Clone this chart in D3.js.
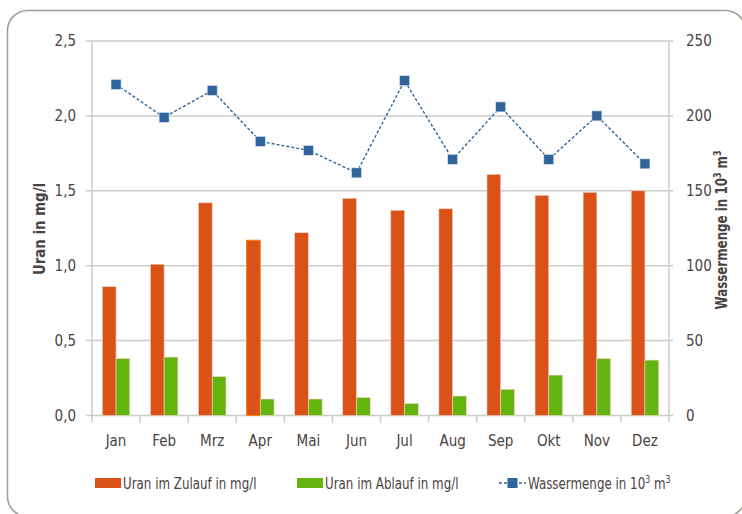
<!DOCTYPE html>
<html>
<head>
<meta charset="utf-8">
<script src="https://cdn.jsdelivr.net/npm/d3@7"></script>
<style>
  html, body { margin: 0; padding: 0; background: #fff; }
  svg { display: block; }
  text { font-family: "DejaVu Sans", sans-serif; font-stretch: condensed; fill: #4b4342; }
</style>
</head>
<body>
<svg id="chart" width="742" height="514"></svg>
<script>
// Monthly uranium concentration (inflow / outflow) and water volume
const months = ["Jan", "Feb", "Mrz", "Apr", "Mai", "Jun", "Jul", "Aug", "Sep", "Okt", "Nov", "Dez"];
const uranZulauf = [0.86, 1.01, 1.42, 1.17, 1.22, 1.45, 1.37, 1.38, 1.61, 1.47, 1.49, 1.50];
const uranAblauf = [0.38, 0.39, 0.26, 0.11, 0.11, 0.12, 0.08, 0.13, 0.175, 0.27, 0.38, 0.37];
const wassermenge = [221, 199, 217, 183, 177, 162, 223.5, 171, 206, 171, 200, 168];
const leftTicks = [0, 0.5, 1.0, 1.5, 2.0, 2.5];
const rightTicks = [0, 50, 100, 150, 200, 250];
const seriesNames = ["Uran im Zulauf in mg/l", "Uran im Ablauf in mg/l", "Wassermenge in 10³ m³"];

const colors = { zulauf: "#d95319", ablauf: "#63b40f", line: "#2f659c", grid: "#cbcbcb" };

const svg = d3.select("#chart");
const plot = { left: 92, right: 669, top: 41, bottom: 415.5 };
const fs = 15;
const fsLong = 16.5;
const squeeze = 0.8; // horizontal compression for the long labels

const fmt = d3.formatLocale({ decimal: ",", thousands: "." }).format(".1f");

const x = d3.scaleBand().domain(months).range([plot.left, plot.right]).padding(0);
const xSub = d3.scaleBand().domain(["zulauf", "ablauf"])
  .range([x.bandwidth() * 0.214, x.bandwidth() * 0.786]).padding(0);
const yLeft = d3.scaleLinear().domain([0, 2.5]).range([plot.bottom, plot.top]);
const yRight = d3.scaleLinear().domain([0, 250]).range([plot.bottom, plot.top]);

// Frame
svg.append("rect")
  .attr("x", 7.5).attr("y", 10.5)
  .attr("width", 738).attr("height", 506)
  .attr("rx", 20).attr("ry", 20)
  .attr("fill", "none").attr("stroke", "#a39a93").attr("stroke-width", 1.5);

// Horizontal gridlines
svg.append("g").selectAll("line").data(leftTicks).join("line")
  .attr("x1", plot.left - 6).attr("x2", plot.right + 4)
  .attr("y1", d => yLeft(d)).attr("y2", d => yLeft(d))
  .attr("stroke", colors.grid).attr("stroke-width", 1.5);

// Vertical axis lines
[plot.left, plot.right].forEach(px => {
  svg.append("line")
    .attr("x1", px).attr("x2", px)
    .attr("y1", plot.top).attr("y2", plot.bottom + 1)
    .attr("stroke", colors.grid).attr("stroke-width", 1.5);
});

// Category tick marks
const bounds = months.map(m => x(m)).concat([plot.right]);
svg.append("g").selectAll("line").data(bounds).join("line")
  .attr("x1", d => d).attr("x2", d => d)
  .attr("y1", plot.bottom).attr("y2", plot.bottom + 7)
  .attr("stroke", colors.grid).attr("stroke-width", 1.5);

// Left tick labels
svg.append("g").selectAll("text").data(leftTicks).join("text")
  .attr("x", 76).attr("y", d => yLeft(d))
  .attr("dy", "0.35em").attr("text-anchor", "end")
  .attr("font-size", fs)
  .text(d => fmt(d));

// Right tick labels
svg.append("g").selectAll("text").data(rightTicks).join("text")
  .attr("x", 686).attr("y", d => yRight(d))
  .attr("dy", "0.35em").attr("text-anchor", "start")
  .attr("font-size", fs)
  .text(d => d);

// Month labels
svg.append("g").selectAll("text").data(months).join("text")
  .attr("x", d => x(d) + x.bandwidth() / 2).attr("y", 441)
  .attr("dy", "0.35em").attr("text-anchor", "middle")
  .attr("font-size", fs)
  .text(d => d);

// Axis titles
svg.append("text")
  .attr("transform", `translate(45,229) rotate(-90) scale(0.9,1)`)
  .attr("text-anchor", "middle").attr("font-size", fsLong).attr("font-weight", "bold")
  .text("Uran in mg/l");

// Text with superscript exponents ("10³ m³")
function withCubic(sel, base) {
  sel.append("tspan").text(base + "10");
  sel.append("tspan").attr("font-size", 11).attr("dy", -6).text("3");
  sel.append("tspan").attr("dy", 6).text(" m");
  sel.append("tspan").attr("font-size", 11).attr("dy", -6).text("3");
}

const rt = svg.append("text")
  .attr("transform", `translate(727,230) rotate(-90) scale(${squeeze},1)`)
  .attr("text-anchor", "middle").attr("font-size", fsLong).attr("font-weight", "bold");
withCubic(rt, "Wassermenge in ");

// Bars
const barData = months.map((m, i) => ({ month: m, zulauf: uranZulauf[i], ablauf: uranAblauf[i] }));
const groups = svg.append("g").selectAll("g").data(barData).join("g")
  .attr("transform", d => `translate(${x(d.month)},0)`);

groups.selectAll("rect")
  .data(d => ["zulauf", "ablauf"].map(k => ({ key: k, value: d[k], month: d.month })))
  .join("rect")
  .attr("x", d => xSub(d.key))
  .attr("width", xSub.bandwidth())
  .attr("y", d => yLeft(d.value))
  .attr("height", d => yLeft(0) - yLeft(d.value))
  .attr("fill", d => colors[d.key])
  .attr("stroke", d => (d.month === "Apr" && d.key === "zulauf") ? "#f08a00" : "#f3d6c8")
  .attr("stroke-width", d => (d.month === "Apr" && d.key === "zulauf") ? 1 : 0.6);

// Water volume line
const lineData = months.map((m, i) => ({ month: m, value: wassermenge[i] }));
const line = d3.line()
  .x(d => x(d.month) + x.bandwidth() / 2)
  .y(d => yRight(d.value));

svg.append("path")
  .datum(lineData)
  .attr("d", line)
  .attr("fill", "none")
  .attr("stroke", colors.line)
  .attr("stroke-width", 1.4)
  .attr("stroke-dasharray", "3,2");

const ms = 10;
svg.append("g").selectAll("rect").data(lineData).join("rect")
  .attr("x", d => x(d.month) + x.bandwidth() / 2 - ms / 2)
  .attr("y", d => yRight(d.value) - ms / 2)
  .attr("width", ms).attr("height", ms)
  .attr("fill", colors.line)
  .attr("stroke", "#dfe8f2").attr("stroke-width", 0.6);

// Legend
const legendY = 483;
const legend = svg.append("g");
[[95, "zulauf", 0], [297, "ablauf", 1]].forEach(([lx, key, idx]) => {
  legend.append("rect")
    .attr("x", lx).attr("y", legendY - 5)
    .attr("width", 26).attr("height", 10)
    .attr("fill", colors[key]);
  legend.append("text")
    .attr("transform", `translate(${lx + 28},${legendY}) scale(${squeeze},1)`)
    .attr("dy", "0.35em").attr("font-size", fsLong)
    .text(seriesNames[idx]);
});
legend.append("line")
  .attr("x1", 499).attr("x2", 526)
  .attr("y1", legendY).attr("y2", legendY)
  .attr("stroke", colors.line).attr("stroke-width", 1.4)
  .attr("stroke-dasharray", "3,2");
legend.append("rect")
  .attr("x", 512.5 - 5).attr("y", legendY - 5)
  .attr("width", 10).attr("height", 10)
  .attr("fill", colors.line);
const lt = legend.append("text")
  .attr("transform", `translate(528,${legendY}) scale(${squeeze},1)`)
  .attr("dy", "0.35em").attr("font-size", fsLong);
withCubic(lt, "Wassermenge in ");
</script>
</body>
</html>
